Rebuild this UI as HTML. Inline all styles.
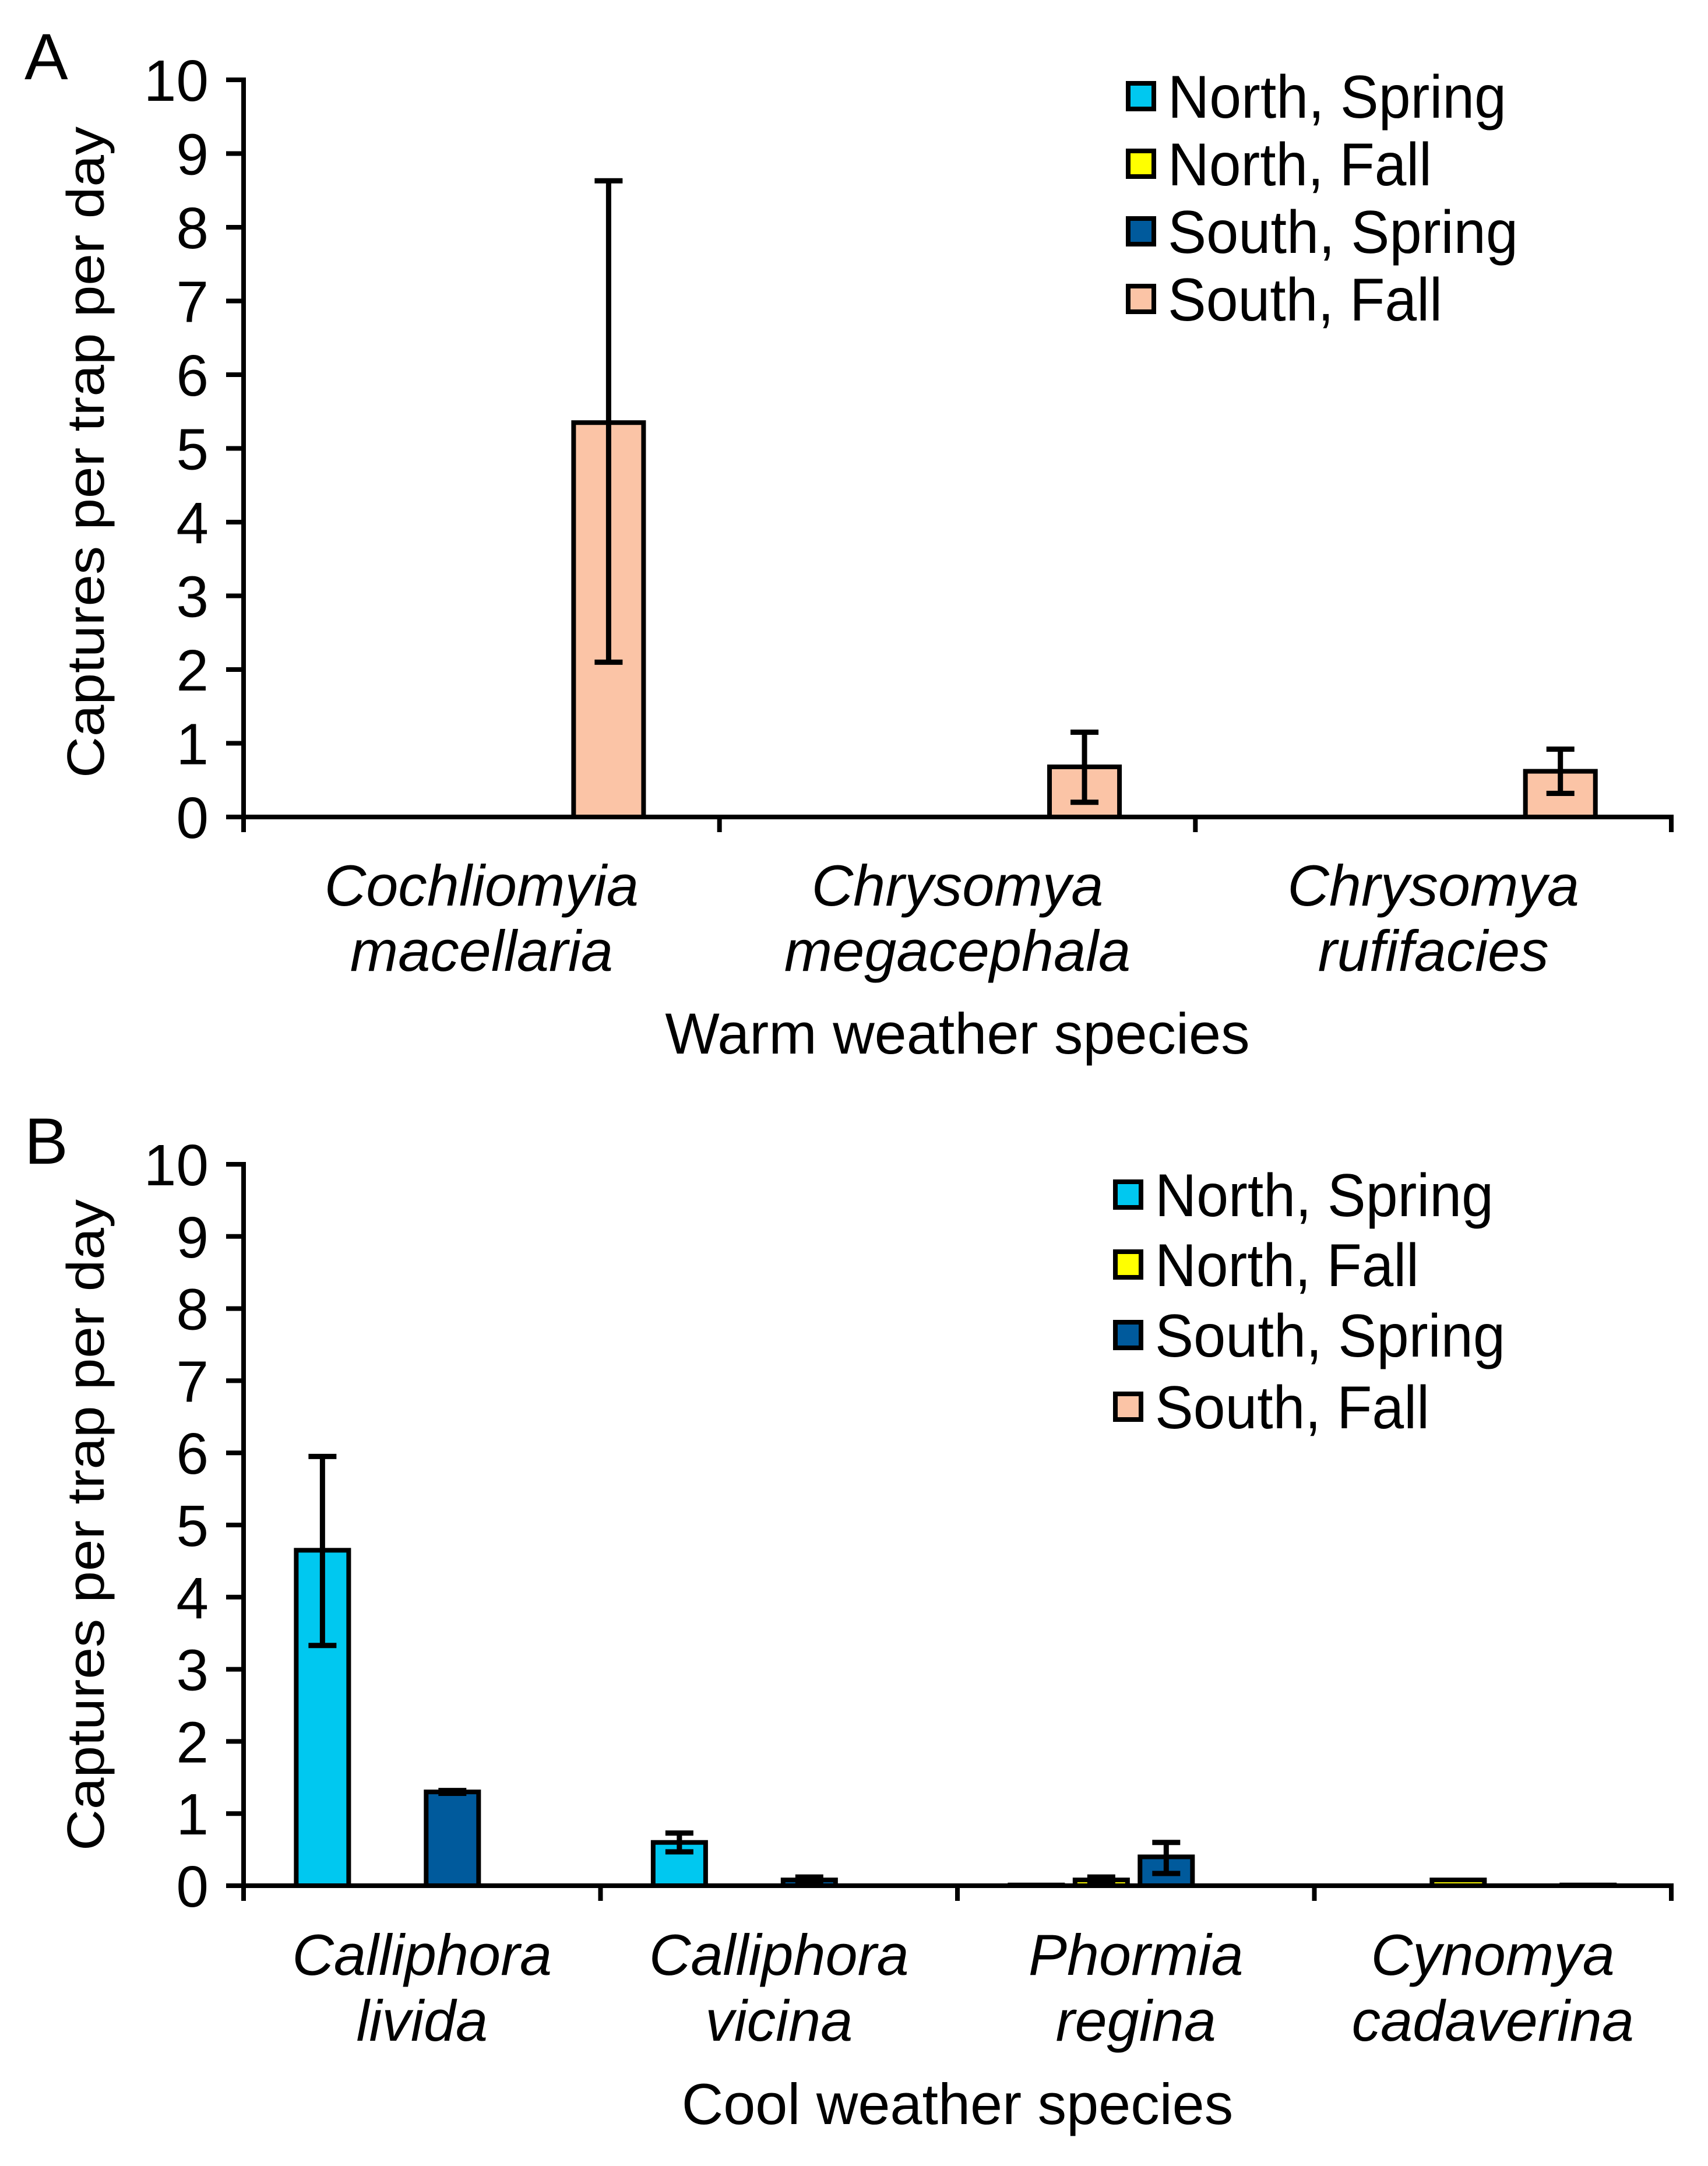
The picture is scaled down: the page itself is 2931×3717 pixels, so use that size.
<!DOCTYPE html>
<html><head><meta charset="utf-8"><style>
html,body{margin:0;padding:0;background:#fff}
svg{display:block;font-family:"Liberation Sans",Arial,sans-serif}
</style></head><body>
<svg id="fig" width="2931" height="3717" viewBox="0 0 2931 3717" xmlns="http://www.w3.org/2000/svg">
<rect width="2931" height="3717" fill="#fff"/>
</svg>
<script>
const seriesNames = ["North, Spring","North, Fall","South, Spring","South, Fall"];
const seriesColors = ["#00c8f0","#ffff00","#005a9c","#fbc4a6"];
const yTicks = [0,1,2,3,4,5,6,7,8,9,10];
// Panel A
const catsA = [["Cochliomyia","macellaria"],["Chrysomya","megacephala"],["Chrysomya","rufifacies"]];
const nsA = [0,0,0];
const nfA = [0,0,0];
const ssA = [0,0,0];
const sfA = [5.35,0.68,0.62];
const errLoA = [[null,null,null],[null,null,null],[null,null,null],[2.1,0.2,0.32]];
const errHiA = [[null,null,null],[null,null,null],[null,null,null],[8.63,1.15,0.92]];
// Panel B
const catsB = [["Calliphora","livida"],["Calliphora","vicina"],["Phormia","regina"],["Cynomya","cadaverina"]];
const nsB = [4.65,0.6,0.01,0];
const nfB = [0,0,0.08,0.08];
const ssB = [1.3,0.08,0.4,0];
const sfB = [0,0,0,0.01];
const errLoB = [[3.33,0.47,null,null],[null,null,0.04,null],[1.28,0.05,0.17,null],[null,null,null,null]];
const errHiB = [[5.95,0.73,null,null],[null,null,0.12,null],[1.32,0.12,0.6,null],[null,null,null,null]];

const NS="http://www.w3.org/2000/svg";
const svg=document.getElementById('fig');
function mk(tag,attrs,parent,text){const e=document.createElementNS(NS,tag);for(const k in attrs)e.setAttribute(k,attrs[k]);if(text!==undefined)e.textContent=text;(parent||svg).appendChild(e);return e;}

function panel(cfg){
  const g=mk('g',{});
  
  
  const x0=418,x1=2868,y0=cfg.y0,y10=cfg.y10;
  const ys=v=>y0-(y0-y10)*v/10;
  const nc=cfg.cats.length, cw=(x1-x0)/nc;
  const xc=(c,s)=>x0+c*cw+cw*0.221+s*cw*0.182;
  const bw=cw*0.147;
  const vals=[cfg.ns,cfg.nf,cfg.ss,cfg.sf];
  for(let s=0;s<4;s++)for(let c=0;c<nc;c++){
    const v=vals[s][c]; if(v<=0)continue;
    const r=mk('rect',{x:xc(c,s)-bw/2,y:ys(v),width:bw,height:y0-ys(v),fill:seriesColors[s],stroke:'#000','stroke-width':8},g);
    
    
  }
  for(let s=0;s<4;s++)for(let c=0;c<nc;c++){
    const lo=cfg.lo[s][c],hi=cfg.hi[s][c]; if(lo==null)continue;
    const x=xc(c,s);
    const eg=mk('g',{stroke:'#000','stroke-width':9},g);
    
    
    mk('line',{x1:x,x2:x,y1:ys(lo),y2:ys(hi)},eg);
    mk('line',{x1:x-24,x2:x+24,y1:ys(lo),y2:ys(lo)},eg);
    mk('line',{x1:x-24,x2:x+24,y1:ys(hi),y2:ys(hi)},eg);
  }
  const ax=mk('g',{stroke:'#000','stroke-width':8},g);
  
  
  mk('line',{x1:x0,x2:x0,y1:y10-4,y2:y0+4},ax);
  mk('line',{x1:x0-4,x2:x1+4,y1:y0,y2:y0},ax);
  for(const t of yTicks) mk('line',{x1:x0-30,x2:x0,y1:ys(t),y2:ys(t)},ax);
  for(let c=0;c<=nc;c++) mk('line',{x1:x0+c*cw,x2:x0+c*cw,y1:y0,y2:y0+26},ax);
  for(const t of yTicks){
    const tl=mk('text',{x:358,y:ys(t)+36,'font-size':100,'text-anchor':'end'},g,String(t));
    
    
  }
  for(let c=0;c<nc;c++){
    const cx=x0+(c+0.5)*cw;
    const t=mk('text',{x:cx,'font-size':99,'font-style':'italic','text-anchor':'middle'},g);
    
    
    mk('tspan',{x:cx,y:cfg.cl1},t,cfg.cats[c][0]);
    mk('tspan',{x:cx,y:cfg.cl2},t,cfg.cats[c][1]);
  }
  const xt=mk('text',{x:1643,y:cfg.xt,'font-size':99,'text-anchor':'middle'},g,cfg.xtitle);
  
  
  const yt=mk('text',{x:0,y:0,'font-size':90,'text-anchor':'middle',transform:`translate(178,${cfg.ytc}) rotate(-90)`,textLength:1118,lengthAdjust:'spacingAndGlyphs'},g,'Captures per trap per day');
  
  
  const pl=mk('text',{x:42,y:cfg.plY,'font-size':112},g,cfg.id);
  
  
  const lg=mk('g',{},g);
  
  
  for(let s=0;s<4;s++){
    const cy=cfg.legY[s];
    const le=mk('g',{},lg);
    
    
    mk('rect',{x:cfg.legX,y:cy-22,width:44,height:44,fill:seriesColors[s],stroke:'#000','stroke-width':8},le);
    const w=[581,453,601,471][s];
    mk('text',{x:cfg.legX+68,y:cy+37,'font-size':104,textLength:w,lengthAdjust:'spacingAndGlyphs'},le,seriesNames[s]);
  }
}
panel({id:'A',y0:1402,y10:137,cats:catsA,ns:nsA,nf:nfA,ss:ssA,sf:sfA,lo:errLoA,hi:errHiA,
  cl1:1554,cl2:1666,xt:1808,xtitle:'Warm weather species',ytc:776,plY:136,legX:1936,legY:[165,281,397,513]});
panel({id:'B',y0:3236,y10:1998,cats:catsB,ns:nsB,nf:nfB,ss:ssB,sf:sfB,lo:errLoB,hi:errHiB,
  cl1:3389,cl2:3502,xt:3645,xtitle:'Cool weather species',ytc:2617,plY:1997,legX:1914,legY:[2050,2170,2291,2414]});
</script>
</body></html>
